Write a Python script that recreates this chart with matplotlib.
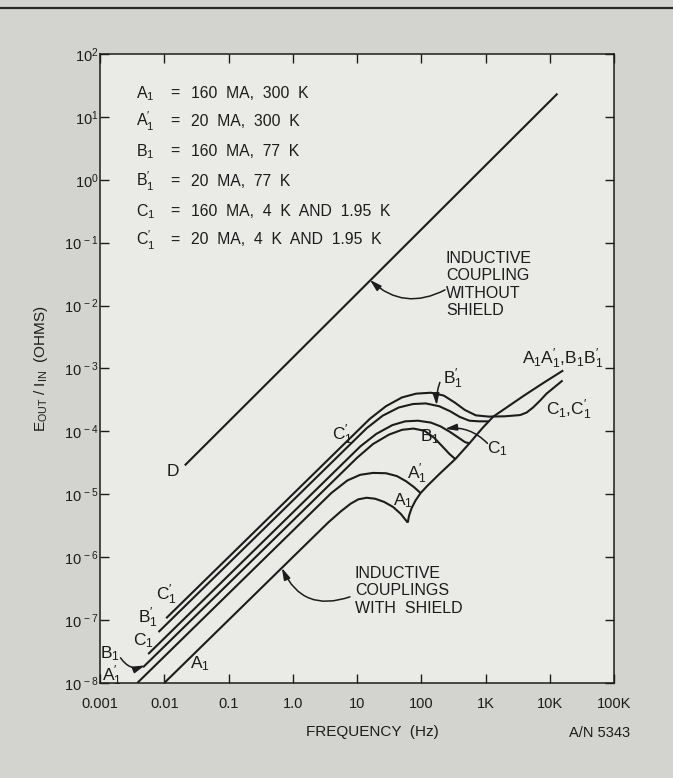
import numpy as np
import matplotlib
matplotlib.use("Agg")
import matplotlib.pyplot as plt
from matplotlib.lines import Line2D

plt.rcParams["font.family"] = ["Liberation Sans", "DejaVu Sans"]
plt.rcParams["mathtext.fontset"] = "custom"
plt.rcParams["mathtext.rm"] = "Liberation Sans"
plt.rcParams["mathtext.it"] = "Liberation Sans:italic"
plt.rcParams["mathtext.bf"] = "Liberation Sans:bold"

INK = "#1c1c1c"

# curves, as log10(frequency in Hz) / log10(E_out/I_in in ohms)
# D: inductive coupling without shield
d_logf = [-1.68, 4.12]
d_logE = [-4.54, 1.37]

# C'1 = 20 MA, 4 K and 1.95 K
c1p_logf = [-1.97, 1.20, 1.45, 1.70, 1.92, 2.15, 2.35, 2.52, 2.68, 2.85, 3.05, 3.30,
            3.54, 3.64, 3.74, 3.85, 3.95, 4.20]
c1p_logE = [-6.97, -3.80, -3.60, -3.46, -3.40, -3.385, -3.43, -3.54, -3.66, -3.745,
            -3.765, -3.76, -3.74, -3.70, -3.62, -3.51, -3.40, -3.19]

# B'1 = 20 MA, 77 K
b1p_logf = [-2.09, 1.15, 1.40, 1.65, 1.87, 2.07, 2.28, 2.45, 2.60, 2.75, 2.90, 3.05]
b1p_logE = [-7.19, -3.95, -3.75, -3.62, -3.565, -3.555, -3.60, -3.68, -3.77, -3.83,
            -3.84, -3.84]

# C1 = 160 MA, 4 K and 1.95 K
c1_logf = [-2.25, 1.05, 1.30, 1.55, 1.75, 1.95, 2.15, 2.30, 2.45, 2.58, 2.68, 2.75]
c1_logE = [-7.54, -4.24, -4.04, -3.90, -3.84, -3.83, -3.86, -3.92, -4.01, -4.10,
           -4.17, -4.19]

# B1 = 160 MA, 77 K
b1_logf = [-2.33, 1.00, 1.25, 1.50, 1.70, 1.88, 2.05, 2.20, 2.33, 2.44, 2.53]
b1_logE = [-7.75, -4.42, -4.20, -4.05, -3.975, -3.955, -3.99, -4.10, -4.24, -4.36, -4.44]

# A'1 = 20 MA, 300 K
a1p_logf = [-2.42, 0.60, 0.85, 1.05, 1.25, 1.45, 1.62, 1.76, 1.88, 1.99]
a1p_logE = [-8.00, -4.98, -4.78, -4.69, -4.66, -4.665, -4.71, -4.79, -4.88, -4.98]

# A1 = 160 MA, 300 K
a1_logf = [-2.00, 0.55, 0.75, 0.90, 1.02, 1.15, 1.28, 1.42, 1.56, 1.68, 1.79]
a1_logE = [-8.00, -5.45, -5.27, -5.15, -5.08, -5.055, -5.07, -5.12, -5.20, -5.31, -5.45]

# shared high frequency branch of A1, A'1, B1, B'1 (and C1 up to the crossing)
shared_logf = [1.79, 1.81, 1.85, 1.91, 1.99, 2.10, 2.30, 2.53, 2.75, 2.95, 3.12, 3.30,
               3.60, 3.90, 4.21]
shared_logE = [-5.45, -5.34, -5.22, -5.10, -4.98, -4.86, -4.66, -4.44, -4.19, -3.95,
               -3.765, -3.64, -3.43, -3.23, -3.03]

x_ticks = [1e-3, 1e-2, 1e-1, 1, 10, 100, 1e3, 1e4, 1e5]
x_tick_labels = ["0.001", "0.01", "0.1", "1.0", "10", "100", "1K", "10K", "100K"]
y_exponents = [-8, -7, -6, -5, -4, -3, -2, -1, 0, 1, 2]

legend_names = [r"A$_1$", r"A$_1^{\prime}$", r"B$_1$", r"B$_1^{\prime}$", r"C$_1$",
                r"C$_1^{\prime}$"]
legend_values = ["160  MA,  300  K", "20  MA,  300  K", "160  MA,  77  K",
                 "20  MA,  77  K", "160  MA,  4  K  AND  1.95  K",
                 "20  MA,  4  K  AND  1.95  K"]


def P(lf, le):
    return 10.0 ** np.asarray(lf), 10.0 ** np.asarray(le)


fig = plt.figure(figsize=(6.73, 7.78), dpi=100, facecolor="#d3d3cf")
ax = fig.add_axes([100 / 673, 1 - 683 / 778, 514 / 673, 629 / 778])
ax.set_facecolor("#eaeae7")
ax.set_xscale("log")
ax.set_yscale("log")
ax.set_xlim(1e-3, 1e5)
ax.set_ylim(1e-8, 1e2)

# top rule of the page
fig.add_artist(Line2D([0, 1], [1 - 8 / 778, 1 - 8 / 778], color="#2a2a2a", lw=1.6))

lw = 1.5
for lf, le in [(d_logf, d_logE), (c1p_logf, c1p_logE), (b1p_logf, b1p_logE),
               (c1_logf, c1_logE), (b1_logf, b1_logE), (a1p_logf, a1p_logE),
               (a1_logf, a1_logE), (shared_logf, shared_logE)]:
    x, y = P(lf, le)
    ax.plot(x, y, color=INK, lw=lw, solid_joinstyle="round", solid_capstyle="butt")

# axes styling
for s in ax.spines.values():
    s.set_linewidth(1.1)
    s.set_color(INK)
ax.set_xticks(x_ticks)
ax.set_xticklabels(x_tick_labels)
ax.set_yticks([10.0 ** e for e in y_exponents])
ax.set_yticklabels([r"10$^{\,%d}$" % e if e < 0 else r"10$^{%d}$" % e
                    for e in y_exponents])
ax.minorticks_off()
ax.tick_params(direction="in", top=True, right=True, length=6.5, width=1, color=INK,
               labelsize=10.5, labelcolor=INK)
ax.tick_params(axis="x", pad=10)
ax.tick_params(axis="y", pad=1)

ax.set_xlabel("FREQUENCY  (Hz)", fontsize=11, color=INK, labelpad=10, x=0.53)
ax.set_ylabel(r"E$_{\mathrm{OUT}}$ / I$_{\mathrm{IN}}$  (OHMS)", fontsize=11,
              color=INK, labelpad=10)
fig.text(630 / 673, 1 - 733 / 778, "A/N 5343", ha="right", va="center",
         fontsize=10.5, color=INK)

# legend block
row_y = [93.3, 121.7, 151.7, 181.7, 211.7, 240.0]
for name, val, yy in zip(legend_names, legend_values, row_y):
    fy = (683 - yy) / 629
    ax.text(0.071, fy, name, transform=ax.transAxes, ha="left", va="center",
            fontsize=11.5, color=INK)
    ax.text(0.146, fy, "=", transform=ax.transAxes, ha="center", va="center",
            fontsize=11.5, color=INK)
    ax.text(0.178, fy, val, transform=ax.transAxes, ha="left", va="center",
            fontsize=11.3, color=INK)

# big annotations
ax.text(0.673, (683 - 251) / 629, "INDUCTIVE\nCOUPLING\nWITHOUT\nSHIELD",
        transform=ax.transAxes, ha="left", va="top", fontsize=11.5, color=INK,
        linespacing=1.2)
ax.text(0.496, (683 - 566) / 629, "INDUCTIVE\nCOUPLINGS\nWITH  SHIELD",
        transform=ax.transAxes, ha="left", va="top", fontsize=11.5, color=INK,
        linespacing=1.2)

curve_labels = [
    ("D", -1.87, -4.63),
    (r"C$_1^{\prime}$", 0.77, -4.05),
    (r"B$_1^{\prime}$", 2.50, -3.16),
    (r"B$_1$", 2.14, -4.08),
    (r"C$_1$", 3.19, -4.27),
    (r"A$_1^{\prime}$", 1.93, -4.68),
    (r"A$_1$", 1.72, -5.10),
    (r"A$_1$A$_1^{\prime}$,B$_1$B$_1^{\prime}$", 4.20, -2.84),
    (r"C$_1$,C$_1^{\prime}$", 4.29, -3.66),
    (r"C$_1^{\prime}$", -1.97, -6.60),
    (r"B$_1^{\prime}$", -2.25, -6.97),
    (r"C$_1$", -2.33, -7.32),
    (r"B$_1$", -2.84, -7.53),
    (r"A$_1^{\prime}$", -2.82, -7.88),
    (r"A$_1$", -1.44, -7.69),
]
for txt, lf, le in curve_labels:
    ax.text(10 ** lf, 10 ** le, txt, ha="center", va="center", fontsize=12.5,
            color=INK)

# pointer arrows: (tail log f, tail log E, tip log f, tip log E, curvature)
pointers = [
    (2.37, -1.75, 1.20, -1.59, -0.35),
    (0.89, -6.63, -0.17, -6.17, -0.45),
    (2.29, -3.22, 2.24, -3.585, 0.1),
    (3.03, -4.19, 2.37, -3.96, 0.25),
    (-2.68, -7.60, -2.30, -7.72, 0.4),
]
for tlf, tle, hlf, hle, rad in pointers:
    ax.annotate("", xy=(10 ** hlf, 10 ** hle), xytext=(10 ** tlf, 10 ** tle),
                arrowprops=dict(arrowstyle="-|>,head_length=0.7,head_width=0.2",
                                connectionstyle="arc3,rad=%s" % rad, color=INK,
                                lw=1.1, shrinkA=0, shrinkB=0))

fig.savefig("out.png", dpi=100, facecolor=fig.get_facecolor())
